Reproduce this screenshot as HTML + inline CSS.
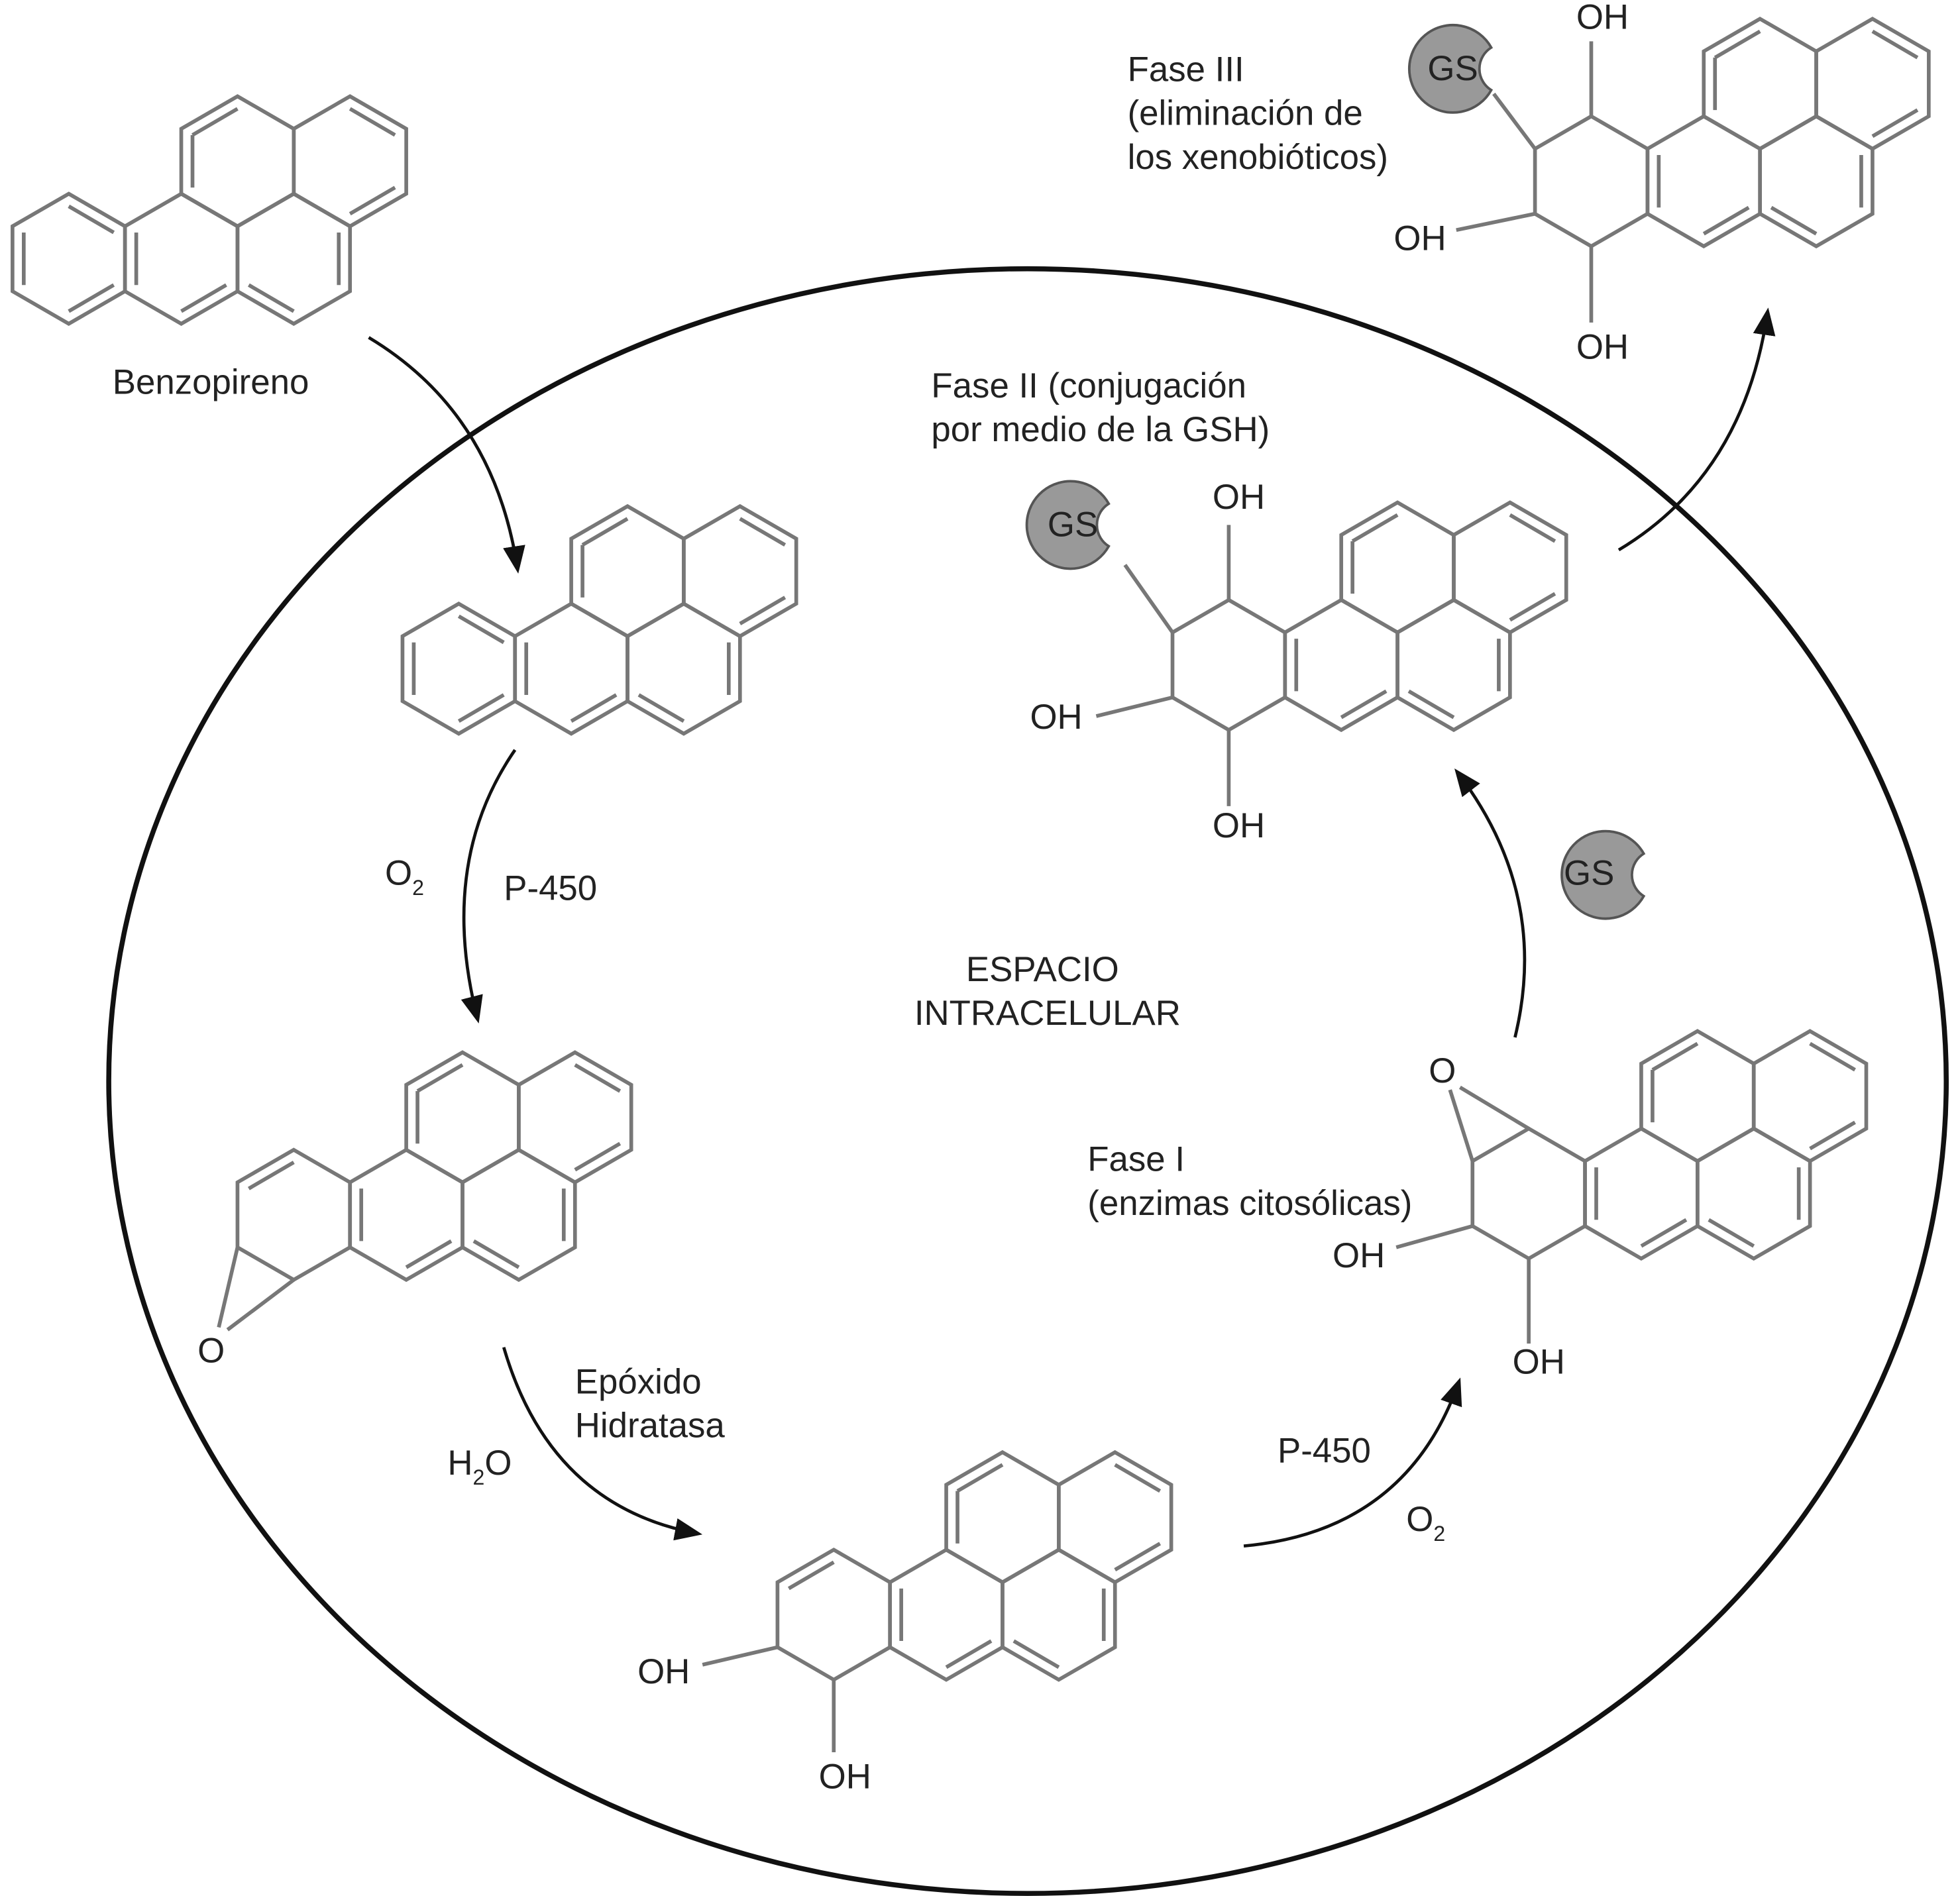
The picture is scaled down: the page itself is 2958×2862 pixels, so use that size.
<!DOCTYPE html>
<html><head><meta charset="utf-8"><style>
html,body{margin:0;padding:0;background:#fff}
svg{display:block}
text{font-family:"Liberation Sans",Arial,sans-serif;font-size:28px;fill:#222}
</style></head><body>
<svg width="2958" height="2862" viewBox="0 0 1568 1517" xmlns="http://www.w3.org/2000/svg">
<defs>
<marker id="ah" markerWidth="22" markerHeight="22" refX="18" refY="11" orient="auto" markerUnits="userSpaceOnUse" viewBox="0 0 22 22">
<path d="M0,2 L22,11 L0,20 Z" fill="#111"/>
</marker>
<g id="core" fill="none" stroke="#777" stroke-width="3">
<polygon points="145,155 190,181 190,233 145,259 100,233 100,181"/>
<polygon points="235,155 280,181 280,233 235,259 190,233 190,181"/>
<polygon points="190,77 235,103 235,155 190,181 145,155 145,103"/>
<polygon points="280,77 325,103 325,155 280,181 235,155 235,103"/>
<line x1="145" y1="249" x2="181" y2="228"/>
<line x1="271" y1="186" x2="271" y2="228"/>
<line x1="235" y1="249" x2="199" y2="228"/>
<line x1="154" y1="108" x2="190" y2="87"/>
<line x1="154" y1="108" x2="154" y2="150"/>
<line x1="280" y1="87" x2="316" y2="108"/>
<line x1="316" y1="150" x2="280" y2="171"/>
<line x1="109" y1="186" x2="109" y2="228"/>
</g>
<g id="ringA" fill="none" stroke="#777" stroke-width="3">
<polygon points="55,155 100,181 100,233 55,259 10,233 10,181"/>
</g>
<g id="aroA" fill="none" stroke="#777" stroke-width="3">
<line x1="19" y1="186" x2="19" y2="228"/>
<line x1="55" y1="165" x2="91" y2="186"/>
<line x1="91" y1="228" x2="55" y2="249"/>
</g>
<g id="gs">
<path d="M30,-17 A35,35 0 1 0 30,17 A20,20 0 0 1 30,-17 Z" fill="#999" stroke="#555" stroke-width="2"/>
</g>
</defs>

<ellipse cx="822" cy="865" rx="735" ry="650" fill="none" stroke="#111" stroke-width="4"/>

<g transform="translate(0,0)"><use href="#core"/><use href="#ringA"/><use href="#aroA"/></g>
<text x="90" y="315">Benzopireno</text>

<g transform="translate(312,328)"><use href="#core"/><use href="#ringA"/><use href="#aroA"/></g>

<g transform="translate(180,765)"><use href="#core"/><use href="#ringA"/>
<line x1="19" y1="186" x2="55" y2="165" stroke="#777" stroke-width="3"/></g>
<g stroke="#777" stroke-width="3"><line x1="190" y1="998" x2="175" y2="1062"/><line x1="235" y1="1024" x2="182" y2="1064"/></g>
<text x="158" y="1090">O</text>

<g transform="translate(612,1085)"><use href="#core"/><use href="#ringA"/>
<line x1="19" y1="186" x2="55" y2="165" stroke="#777" stroke-width="3"/></g>
<g stroke="#777" stroke-width="3"><line x1="622" y1="1318" x2="562" y2="1332"/><line x1="667" y1="1344" x2="667" y2="1402"/></g>
<text x="510" y="1347">OH</text><text x="655" y="1431">OH</text>

<g transform="translate(1168,748)"><use href="#core"/><use href="#ringA"/></g>
<g stroke="#777" stroke-width="3"><line x1="1178" y1="929" x2="1160" y2="872"/><line x1="1223" y1="903" x2="1168" y2="870"/>
<line x1="1178" y1="981" x2="1117" y2="998"/><line x1="1223" y1="1007" x2="1223" y2="1075"/></g>
<text x="1143" y="866">O</text>
<text x="1066" y="1014">OH</text><text x="1210" y="1099">OH</text>
<text x="870" y="937">Fase I</text>
<text x="870" y="972">(enzimas citosólicas)</text>

<g transform="translate(928,325)"><use href="#core"/><use href="#ringA"/></g>
<g stroke="#777" stroke-width="3"><line x1="938" y1="506" x2="900" y2="452"/><line x1="983" y1="480" x2="983" y2="420"/>
<line x1="938" y1="558" x2="877" y2="573"/><line x1="983" y1="584" x2="983" y2="645"/></g>
<g transform="translate(857,420)"><use href="#gs"/></g>
<text x="838" y="429">GS</text>
<text x="970" y="407">OH</text><text x="824" y="583">OH</text><text x="970" y="670">OH</text>
<text x="745" y="318">Fase II (conjugación</text>
<text x="745" y="353">por medio de la GSH)</text>

<g transform="translate(1218,-62)"><use href="#core"/><use href="#ringA"/></g>
<g stroke="#777" stroke-width="3"><line x1="1228" y1="119" x2="1195" y2="75"/><line x1="1273" y1="93" x2="1273" y2="33"/>
<line x1="1228" y1="171" x2="1165" y2="184"/><line x1="1273" y1="197" x2="1273" y2="258"/></g>
<g transform="translate(1163,55)"><use href="#gs"/></g>
<text x="1142" y="64">GS</text>
<text x="1261" y="23">OH</text><text x="1115" y="200">OH</text><text x="1261" y="287">OH</text>
<text x="902" y="65">Fase III</text>
<text x="902" y="100">(eliminación de</text>
<text x="902" y="135">los xenobióticos)</text>

<g transform="translate(1285,700)"><use href="#gs"/></g>
<text x="1251" y="708">GS</text>

<g fill="none" stroke="#111" stroke-width="2.5" marker-end="url(#ah)">
<path d="M295,270 Q395,330 414,455"/>
<path d="M412,600 Q350,690 382,815"/>
<path d="M403,1078 Q440,1205 558,1227"/>
<path d="M995,1237 Q1125,1225 1167,1106"/>
<path d="M1212,830 Q1240,715 1166,618"/>
<path d="M1295,440 Q1395,380 1414,250"/>
</g>

<text x="308" y="708">O<tspan font-size="17" dy="8">2</tspan></text>
<text x="403" y="720">P-450</text>
<text x="834" y="785" text-anchor="middle">ESPACIO</text>
<text x="838" y="820" text-anchor="middle">INTRACELULAR</text>
<text x="460" y="1115">Epóxido</text>
<text x="460" y="1150">Hidratasa</text>
<text x="358" y="1180">H<tspan font-size="17" dy="8">2</tspan><tspan dy="-8">O</tspan></text>
<text x="1022" y="1170">P-450</text>
<text x="1125" y="1225">O<tspan font-size="17" dy="8">2</tspan></text>
</svg>
</body></html>
